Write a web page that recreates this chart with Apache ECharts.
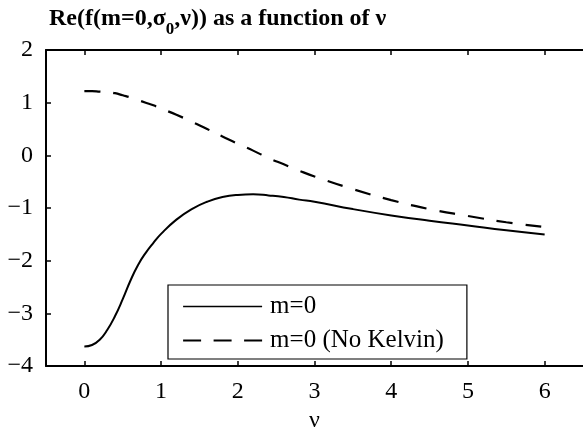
<!DOCTYPE html>
<html>
<head>
<meta charset="utf-8">
<script src="https://cdn.jsdelivr.net/npm/echarts@6/dist/echarts.min.js"></script>
<style>
html,body{margin:0;padding:0;background:#fff;}
#chart{width:583px;height:438px;}
</style>
</head>
<body>
<div id="chart"></div>
<script>
// Data
const nu = [0,0.1,0.2,0.3,0.4,0.5,0.6,0.7,0.8,0.9,1.0,1.2,1.4,1.6,1.8,2.0,2.2,2.4,2.6,2.8,3.0,3.5,4.0,4.5,5.0,5.5,6.0];
const withKelvin = [-3.63,-3.60,-3.50,-3.31,-3.05,-2.73,-2.38,-2.08,-1.85,-1.66,-1.49,-1.22,-1.02,-0.88,-0.79,-0.75,-0.74,-0.76,-0.79,-0.84,-0.88,-1.02,-1.14,-1.24,-1.33,-1.42,-1.50];
const noKelvin = [1.22,1.22,1.21,1.20,1.18,1.14,1.10,1.05,1.00,0.95,0.89,0.77,0.64,0.50,0.36,0.22,0.09,-0.05,-0.17,-0.29,-0.40,-0.64,-0.85,-1.02,-1.15,-1.27,-1.36];
const xTicks = [0,1,2,3,4,5,6];
const seriesNames = ['m=0', 'm=0 (No Kelvin)'];
const titleParts = ['Re(f(m=0,σ', '0', ',ν)) as a function of ν'];
const xName = 'ν';

const FONT = '"Liberation Serif", "Times New Roman", serif';
const chart = echarts.init(document.getElementById('chart'), null, {renderer: 'canvas'});

const pairs = (ys) => nu.map((x, i) => [x, ys[i]]);

const option = {
  backgroundColor: '#fff',
  animation: false,
  title: {
    left: 44, top: 2,
    text: '{a|' + titleParts[0] + '}{s|' + titleParts[1] + '}{a|' + titleParts[2] + '}',
    textStyle: {
      rich: {
        a: {fontFamily: FONT, fontWeight: 'bold', fontSize: 24, color: '#000', lineHeight: 26, verticalAlign: 'top'},
        s: {fontFamily: FONT, fontWeight: 'bold', fontSize: 17, color: '#000', lineHeight: 17, padding: [14,0,0,0], verticalAlign: 'top'}
      }
    }
  },
  grid: {left: 46, top: 50, width: 543, height: 319, containLabel: false},
  legend: {
    orient: 'vertical',
    left: 168, top: 285,
    borderColor: '#000', borderWidth: 1.2,
    padding: [9, 23, 6, 14],
    itemWidth: 79, itemHeight: 14, itemGap: 9,
    textStyle: {fontFamily: FONT, fontSize: 25, color: '#000', padding: [0,0,0,3]},
    data: [
      {name: seriesNames[0], itemStyle: {opacity: 0}, lineStyle: {color: '#000', width: 1.6, type: 'solid'}},
      {name: seriesNames[1], itemStyle: {opacity: 0}, lineStyle: {color: '#000', width: 2.2, type: [18, 12.5]}}
    ]
  },
  xAxis: [
    {
      type: 'value', min: -0.5, max: 6.5, position: 'bottom',
      name: xName, nameLocation: 'middle', nameGap: 36,
      nameTextStyle: {fontFamily: FONT, fontSize: 24, color: '#000'},
      axisLine: {show: true, onZero: false, lineStyle: {color: '#000', width: 2}},
      axisTick: {show: true, inside: true, length: 5, customValues: xTicks, lineStyle: {color: '#000', width: 1.5}},
      axisLabel: {show: true, customValues: xTicks, margin: 14, fontFamily: FONT, fontSize: 24, color: '#000'},
      splitLine: {show: false}
    },
    {
      type: 'value', min: -0.5, max: 6.5, position: 'top',
      axisLine: {show: true, onZero: false, lineStyle: {color: '#000', width: 2}},
      axisTick: {show: true, inside: true, length: 5, customValues: xTicks, lineStyle: {color: '#000', width: 1.5}},
      axisLabel: {show: false},
      splitLine: {show: false}
    }
  ],
  yAxis: {
    type: 'value', min: -4, max: 2, interval: 1,
    axisLine: {show: true, onZero: false, lineStyle: {color: '#000', width: 2}},
    axisTick: {show: true, inside: true, length: 5, lineStyle: {color: '#000', width: 1.5}},
    axisLabel: {margin: 13, fontFamily: FONT, fontSize: 24, color: '#000',
      formatter: v => (v < 0 ? '\u2212' + Math.abs(v) : String(v))},
    splitLine: {show: false}
  },
  series: [
    {
      name: seriesNames[0], type: 'line', xAxisIndex: 0, data: pairs(withKelvin),
      symbol: 'none', smooth: 0.5, lineStyle: {color: '#000', width: 2, type: 'solid'}, itemStyle: {color: '#000'}
    },
    {
      name: seriesNames[1], type: 'line', xAxisIndex: 0, data: pairs(noKelvin),
      symbol: 'none', smooth: 0.5, lineStyle: {color: '#000', width: 2.2, type: [16, 13]}, itemStyle: {color: '#000'}
    }
  ]
};
chart.setOption(option);
</script>
</body>
</html>
